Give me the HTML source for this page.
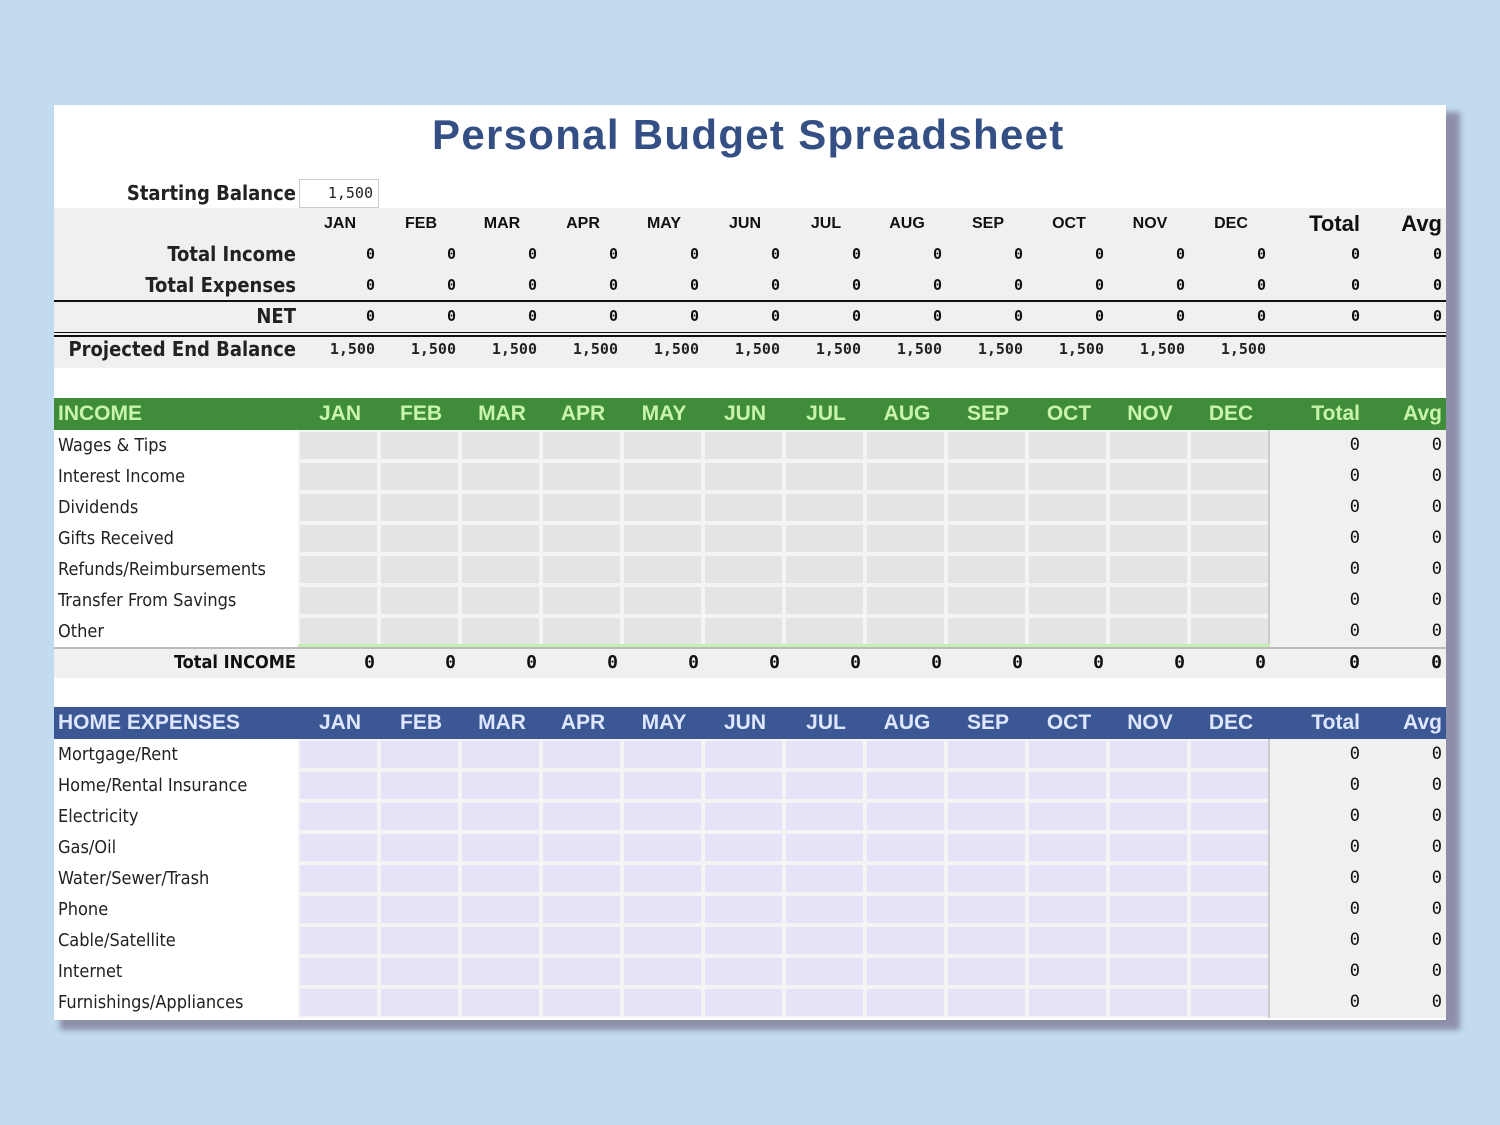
<!DOCTYPE html>
<html><head><meta charset="utf-8"><style>
body{margin:0;width:1500px;height:1125px;background:#c2dbef;position:relative;overflow:hidden;font-family:"Liberation Sans",sans-serif}
.sh{position:absolute;left:60px;top:112px;width:1400px;height:918px;background:#8d8fa8;filter:blur(3px)}
.sheet{position:absolute;left:54px;top:105px;width:1392px;height:915px;background:#fff;overflow:hidden}
.a{position:absolute;white-space:nowrap}
</style></head><body>
<div class="sh"></div>
<div class="sheet" id="s">
<div class="a" style="left:378px;top:6px;font-size:42px;font-weight:bold;color:#344f84;letter-spacing:1.3px">Personal Budget Spreadsheet</div>
</div>
<script>
const s=document.getElementById('s');
function add(h){s.insertAdjacentHTML('beforeend',h);}
const OX=54,OY=105;
function box(x,y,w,h,st){add(`<div class="a" style="left:${x-OX}px;top:${y-OY}px;width:${w}px;height:${h}px;${st}"></div>`);}
function txt(x,y,w,h,t,st){add(`<div class="a" style="left:${x-OX}px;top:${y-OY}px;width:${w}px;height:${h}px;line-height:${h}px;${st}">${t}</div>`);}
const M=['JAN','FEB','MAR','APR','MAY','JUN','JUL','AUG','SEP','OCT','NOV','DEC'];
const cx=i=>298+i*81;
txt(60,178,236,30,'Starting Balance','text-align:right;font-size:20px;font-weight:bold;color:#222;font-family:DejaVu Sans Condensed,DejaVu Sans,sans-serif');
box(299,179,80,29,'border:1px solid #ccc;box-sizing:border-box;background:#fff');
txt(299,179,74,29,'1,500','text-align:right;font-size:15px;color:#222;font-family:DejaVu Sans Mono,monospace');
box(54,208,1392,160,'background:#f0f0f0');
box(54,300,1392,2,'background:#111');
box(54,332,1392,1,'background:#111');box(54,335,1392,2,'background:#111');
const cond='font-family:DejaVu Sans Condensed,DejaVu Sans,sans-serif;font-weight:bold;color:#222;text-align:right;font-size:20px';
txt(60,239,236,31,'Total Income',cond);
txt(60,270,236,31,'Total Expenses',cond);
txt(60,301,236,31,'NET',cond);
txt(60,334,236,31,'Projected End Balance',cond);
for(let i=0;i<12;i++){
 txt(cx(i),208,84,31,M[i],'text-align:center;font-size:16px;font-weight:bold;color:#111');
 [239,270,301].forEach(y=>txt(cx(i),y,77,31,'0','text-align:right;font-size:15px;font-weight:bold;color:#111;font-family:DejaVu Sans Mono,monospace'));
 txt(cx(i),334,77,31,'1,500','text-align:right;font-size:15px;font-weight:bold;color:#222;font-family:DejaVu Sans Mono,monospace');
}
txt(1270,208,90,31,'Total','text-align:right;font-size:22px;font-weight:bold;color:#111');
txt(1365,208,77,31,'Avg','text-align:right;font-size:22px;font-weight:bold;color:#111');
[239,270,301].forEach(y=>{txt(1270,y,90,31,'0','text-align:right;font-size:15px;font-weight:bold;color:#111;font-family:DejaVu Sans Mono,monospace');txt(1365,y,77,31,'0','text-align:right;font-size:15px;font-weight:bold;color:#111;font-family:DejaVu Sans Mono,monospace');});
function section(y0,title,hbg,htc,cellbg,labels,total){
 box(54,y0,1392,32,'background:'+hbg);
 txt(58,y0,300,32,title,`font-size:21px;font-weight:bold;color:${htc}`);
 for(let i=0;i<12;i++) txt(cx(i),y0,84,32,M[i],`text-align:center;font-size:21px;font-weight:bold;color:${htc}`);
 txt(1270,y0,90,32,'Total',`text-align:right;font-size:21px;font-weight:bold;color:${htc}`);
 txt(1365,y0,77,32,'Avg',`text-align:right;font-size:21px;font-weight:bold;color:${htc}`);
 const ry=y0+32,n=labels.length;
 box(298,ry,972,n*31,'background:#f4f4f4');
 box(1270,ry,176,n*31,'background:#f0f0f0');
 box(1268,ry,2,n*31,'background:#ccc');
 labels.forEach((l,r)=>{
  const y=ry+r*31;
  txt(58,y,240,31,l,'font-size:18px;color:#222;font-family:DejaVu Sans Condensed,DejaVu Sans,sans-serif');
  for(let i=0;i<12;i++) box(cx(i)+2,y+2,77,27,'background:'+cellbg);
  txt(1270,y,90,31,'0','text-align:right;font-size:17px;color:#111;font-family:DejaVu Sans Mono,monospace');
  txt(1365,y,77,31,'0','text-align:right;font-size:17px;color:#111;font-family:DejaVu Sans Mono,monospace');
 });
 if(total){
  const ty=ry+n*31;
  box(54,ty,1392,31,'background:#f0f0f0');
  box(54,ty,1392,2,'background:#bbb');box(298,ty-3,972,3,'background:#c6f0b0');
  txt(60,ty,236,31,'Total INCOME','text-align:right;font-size:18px;font-weight:bold;color:#111;font-family:DejaVu Sans Condensed,DejaVu Sans,sans-serif');
  for(let i=0;i<12;i++) txt(cx(i),ty,77,31,'0','text-align:right;font-size:18px;font-weight:bold;color:#111;font-family:DejaVu Sans Mono,monospace');
  txt(1270,ty,90,31,'0','text-align:right;font-size:18px;font-weight:bold;color:#111;font-family:DejaVu Sans Mono,monospace');
  txt(1365,ty,77,31,'0','text-align:right;font-size:18px;font-weight:bold;color:#111;font-family:DejaVu Sans Mono,monospace');
 }
}
section(398,'INCOME','#3f8c3a','#c9f5aa','#e4e4e4',['Wages &amp; Tips','Interest Income','Dividends','Gifts Received','Refunds/Reimbursements','Transfer From Savings','Other'],true);
section(707,'HOME EXPENSES','#3b5895','#dfe6ff','#e5e3f8',['Mortgage/Rent','Home/Rental Insurance','Electricity','Gas/Oil','Water/Sewer/Trash','Phone','Cable/Satellite','Internet','Furnishings/Appliances'],false);
</script>
</body></html>
